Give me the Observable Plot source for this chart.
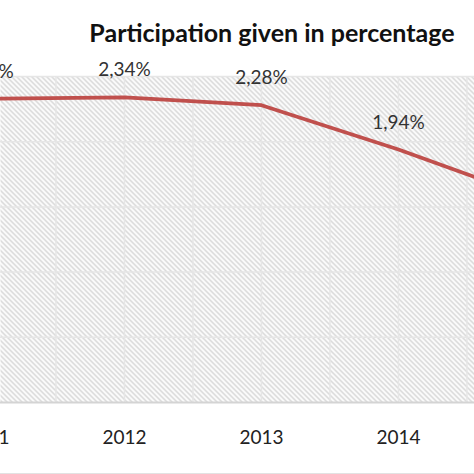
<!DOCTYPE html>
<html>
<head>
<meta charset="utf-8">
<script src="https://cdn.jsdelivr.net/npm/d3@7"></script>
<script src="https://cdn.jsdelivr.net/npm/@observablehq/plot@0.6"></script>
<style>
  html, body { margin: 0; padding: 0; background: #fff; }
  #chart { width: 474px; height: 473px; overflow: hidden; border-bottom: 1.5px solid #e2e2e2; }
  #title {
    height: 50px; line-height: 64px; padding-left: 70px; box-sizing: border-box;
    text-align: center; font-family: Lato, "Open Sans", sans-serif; font-weight: 700;
    font-size: 25px; color: #111; white-space: nowrap;
  }
  svg { display: block; }
</style>
</head>
<body>
<div id="chart">
  <div id="title">Participation given in percentage</div>
</div>
<script>
  // values (percent)
  const years = [2011, 2012, 2013, 2014, 2015];
  const shares = [2.33, 2.34, 2.28, 1.94, 1.56];
  const yTicks = [0.5, 1.0, 1.5, 2.0, 2.5];
  const xGrid = [2011.5, 2012, 2012.5, 2013, 2013.5, 2014, 2014.5];

  const data = years.map((y, i) => ({ year: y, value: shares[i] }));
  const fmt = v => v.toFixed(2).replace(".", ",") + "%";

  const chart = Plot.plot({
    width: 474,
    height: 422,
    marginLeft: 0,
    marginRight: 0,
    marginTop: 26,
    marginBottom: 70,
    style: { background: "#fff", fontFamily: "Lato, 'Open Sans', sans-serif", color: "#222" },
    x: { domain: [2011.095, 2014.555], axis: null },
    y: { domain: [0, 2.5], axis: null },
    marks: [
      Plot.frame({ fill: "url(#hatch)", stroke: "none" }),
      Plot.ruleY(yTicks, { stroke: "#e6e6e6", strokeWidth: 1.5 }),
      Plot.ruleX(xGrid, { stroke: "#e6e6e6", strokeWidth: 1.5 }),
      Plot.ruleY([0], { stroke: "#d4d4d4", strokeWidth: 2 }),
      Plot.line(data, { x: "year", y: "value", stroke: "#c0504d", strokeWidth: 3.8, clip: true }),
      Plot.text(data, {
        x: "year", y: "value", text: d => fmt(d.value), dy: -27,
        fontSize: 19, fill: "#333"
      }),
      Plot.text(years, {
        x: d => d, y: () => 0, text: d => String(d), dy: 35,
        fontSize: 19, fill: "#222"
      })
    ]
  });

  // diagonal hatch pattern for the plot area
  const defs = d3.select(chart).insert("defs", ":first-child");
  const pat = defs.append("pattern")
    .attr("id", "hatch")
    .attr("patternUnits", "userSpaceOnUse")
    .attr("width", 5).attr("height", 5);
  pat.append("rect").attr("width", 5).attr("height", 5).attr("fill", "#fff");
  pat.append("path")
    .attr("d", "M0,0L5,5M-1,4L1,6M4,-1L6,1")
    .attr("stroke", "#cfcfcf").attr("stroke-width", 1.3);

  document.getElementById("chart").appendChild(chart);
</script>
</body>
</html>
